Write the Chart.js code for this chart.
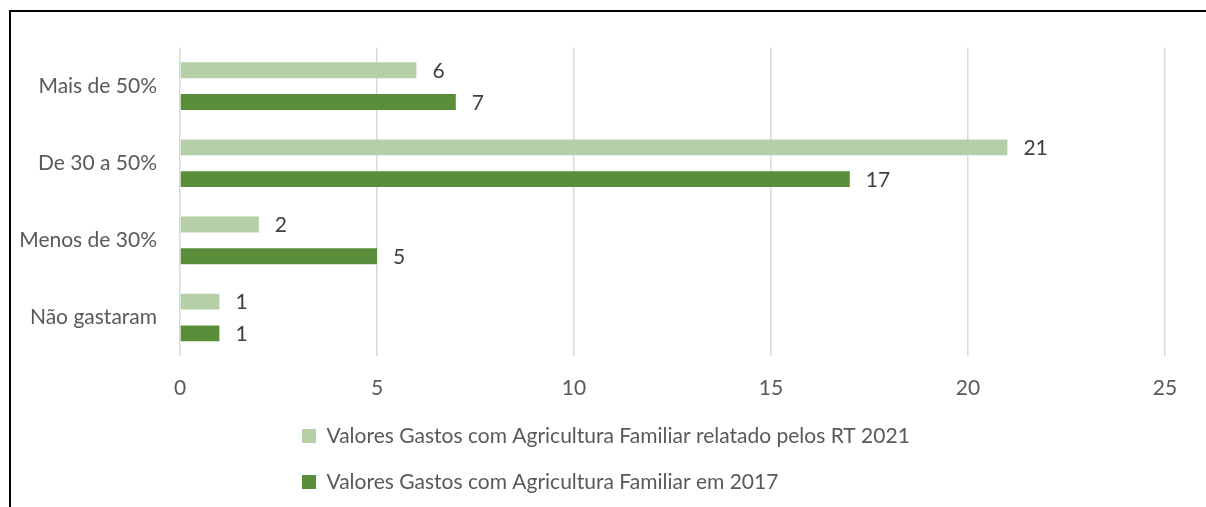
<!DOCTYPE html>
<html>
<head>
<meta charset="utf-8">
<script src="https://cdn.jsdelivr.net/npm/chart.js@4"></script>
<style>
    body { margin: 0; background: #fff; }
    #frame {
        position: absolute;
        left: 9px;
        top: 10px;
        width: 1197px;
        height: 497px;
        border-top: 2px solid #000;
        border-left: 2px solid #000;
    }
</style>
</head>
<body>
<div id="frame"><canvas id="chart" width="1195" height="495"></canvas></div>
<script>
const categories = ['Mais de 50%', 'De 30 a 50%', 'Menos de 30%', 'Não gastaram'];
const seriesNames = [
    'Valores Gastos com Agricultura Familiar relatado pelos RT 2021',
    'Valores Gastos com Agricultura Familiar em 2017',
];
const values2021 = [6, 21, 2, 1];
const values2017 = [7, 17, 5, 1];
const xTicks = [0, 5, 10, 15, 20, 25];

const fontFamily = 'Lato, "Open Sans", sans-serif';
const fontSize = 21;
const textColor = '#595959';
const valueColor = '#404040';
const gridColor = '#d9d9d9';

const pad = { left: 4, right: 41, top: 33, bottom: 4.5 };
const plotLeft = 169;       // where the value axis starts
const xAxisHeight = 44.5;
const legendX = 291;

// writes each bar's value just past its end
const barValues = {
    id: 'barValues',
    afterDatasetsDraw(chart) {
        const ctx = chart.ctx;
        ctx.save();
        ctx.font = `${fontSize}px ${fontFamily}`;
        ctx.fillStyle = valueColor;
        ctx.textAlign = 'left';
        ctx.textBaseline = 'middle';
        chart.data.datasets.forEach((ds, i) => {
            chart.getDatasetMeta(i).data.forEach((bar, j) => {
                ctx.fillText(String(ds.data[j]), bar.x + 16, bar.y + 1);
            });
        });
        ctx.restore();
    }
};

// legend rows share one left edge
const legendShift = {
    id: 'legendShift',
    afterUpdate(chart) {
        const legend = chart.legend;
        legend.left = legendX - legend.options.labels.padding;
    }
};

new Chart(document.getElementById('chart'), {
    type: 'bar',
    data: {
        labels: categories,
        datasets: [
            {
                label: seriesNames[0],
                data: values2021,
                backgroundColor: '#b5d0a8',
                categoryPercentage: 0.823,
                barPercentage: 0.5,
            },
            {
                label: seriesNames[1],
                data: values2017,
                backgroundColor: '#5b8e3a',
                categoryPercentage: 0.823,
                barPercentage: 0.5,
            },
        ],
    },
    options: {
        indexAxis: 'y',
        responsive: false,
        animation: false,
        layout: {
            padding: pad,
        },
        scales: {
            x: {
                min: 0,
                max: 25,
                afterBuildTicks: (scale) => {
                    scale.ticks = xTicks.map(v => ({ value: v }));
                },
                afterFit: (scale) => {
                    scale.height = xAxisHeight;
                },
                border: { display: false },
                grid: {
                    color: gridColor,
                    lineWidth: 1.5,
                    drawTicks: false,
                },
                ticks: {
                    padding: 20,
                    color: textColor,
                    font: { family: fontFamily, size: fontSize },
                },
            },
            y: {
                afterFit: (scale) => {
                    scale.width = plotLeft - pad.left;
                },
                border: { display: false },
                grid: { display: false, drawTicks: false },
                ticks: {
                    padding: 23,
                    color: textColor,
                    font: { family: fontFamily, size: fontSize },
                },
            },
        },
        plugins: {
            legend: {
                position: 'bottom',
                align: 'start',
                labels: {
                    boxWidth: 14,
                    boxHeight: 14,
                    padding: 25,
                    color: textColor,
                    font: { family: fontFamily, size: fontSize },
                },
            },
            tooltip: { enabled: false },
        },
    },
    plugins: [barValues, legendShift],
});
</script>
</body>
</html>
